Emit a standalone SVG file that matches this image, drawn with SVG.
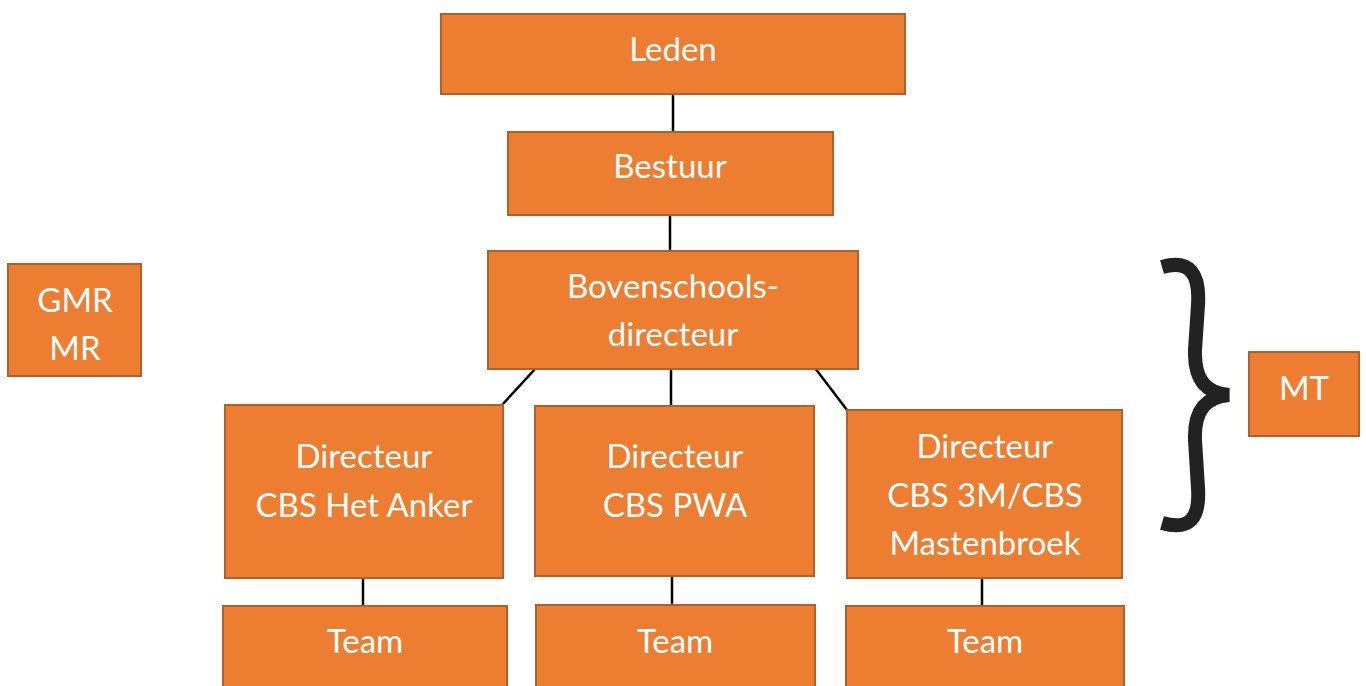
<svg xmlns="http://www.w3.org/2000/svg" width="1366" height="686" viewBox="0 0 1366 686">
<style>
.box{fill:#ED7D31;stroke:#B0602A;stroke-width:2}
.t{font-family:Lato,"Open Sans","Liberation Sans",sans-serif;font-size:33px;fill:#FFFFFF;text-anchor:middle}
.c{stroke:#000;stroke-width:2.5;fill:none}
</style>
<rect width="1366" height="686" fill="#FFFFFF"/>
<g id="connectors">
<line class="c" x1="673" y1="94" x2="673" y2="132"/>
<line class="c" x1="670" y1="215" x2="670" y2="251"/>
<line class="c" x1="671" y1="369" x2="671" y2="406"/>
<line class="c" x1="536" y1="368" x2="502" y2="405"/>
<line class="c" x1="815" y1="368" x2="847" y2="410"/>
<line class="c" x1="363" y1="578" x2="363" y2="607"/>
<line class="c" x1="672" y1="576" x2="672" y2="606"/>
<line class="c" x1="982" y1="578" x2="982" y2="606"/>
</g>
<g id="leden"><rect class="box" x="441" y="14" width="464" height="80"/><text class="t" x="673" y="61">Leden</text></g>
<g id="bestuur"><rect class="box" x="508" y="132" width="325" height="83"/><text class="t" x="670" y="178">Bestuur</text></g>
<g id="bovenschools"><rect class="box" x="488" y="251" width="370" height="118"/><text class="t" x="673" y="298">Bovenschools-</text><text class="t" x="673" y="346">directeur</text></g>
<g id="gmr"><rect class="box" x="8" y="264" width="133" height="112"/><text class="t" x="75" y="312">GMR</text><text class="t" x="75" y="360">MR</text></g>
<g id="mt"><rect class="box" x="1249" y="352" width="110" height="84"/><text class="t" x="1304" y="400">MT</text></g>
<g id="dir1"><rect class="box" x="225" y="405" width="278" height="173"/><text class="t" x="364" y="468">Directeur</text><text class="t" x="364" y="517">CBS Het Anker</text></g>
<g id="dir2"><rect class="box" x="535" y="406" width="279" height="170"/><text class="t" x="675" y="468">Directeur</text><text class="t" x="675" y="517">CBS PWA</text></g>
<g id="dir3"><rect class="box" x="847" y="410" width="275" height="168"/><text class="t" x="985" y="458">Directeur</text><text class="t" x="985" y="507">CBS 3M/CBS</text><text class="t" x="985" y="555">Mastenbroek</text></g>
<g id="team1"><rect class="box" x="223" y="606" width="284" height="90"/><text class="t" x="365" y="653">Team</text></g>
<g id="team2"><rect class="box" x="536" y="605" width="279" height="91"/><text class="t" x="675" y="653">Team</text></g>
<g id="team3"><rect class="box" x="846" y="606" width="278" height="90"/><text class="t" x="985" y="653">Team</text></g>
<g id="brace"><path d="M1162,267 C1190,259 1200,274 1198,305 L1195,350 C1194,380 1206,393 1229,395 C1206,397 1194,410 1195,440 L1198,488 C1200,518 1190,531 1162,523" fill="none" stroke="#222" stroke-width="14"/></g>
</svg>
